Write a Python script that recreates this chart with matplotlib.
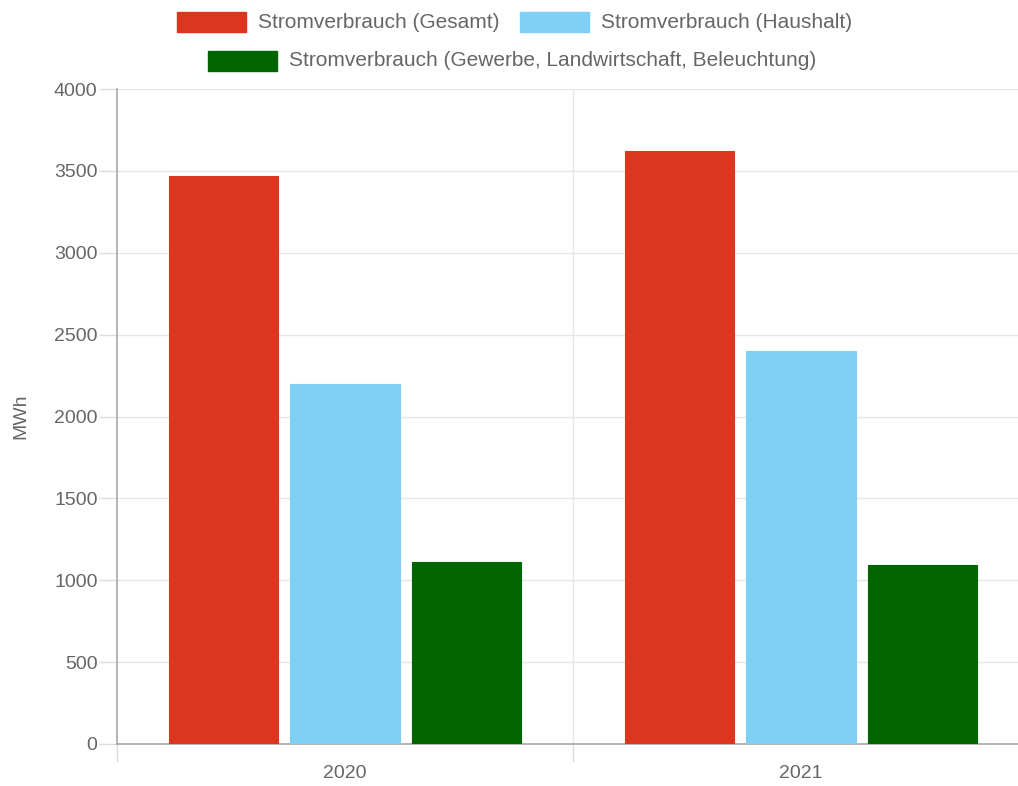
import matplotlib
matplotlib.use("Agg")
import matplotlib.pyplot as plt
import numpy as np
from matplotlib.patches import Rectangle

plt.rcParams['font.family'] = ['Liberation Sans', 'DejaVu Sans']

years = ["2020", "2021"]
series = ["Stromverbrauch (Gesamt)", "Stromverbrauch (Haushalt)",
          "Stromverbrauch (Gewerbe, Landwirtschaft, Beleuchtung)"]
gesamt = [3468, 3620]
haushalt = [2200, 2400]
gewerbe = [1113, 1095]
colors = ["#dd361f", "#7fd0f5", "#006400"]

W, H = 1018, 786
fig = plt.figure(figsize=(W / 100, H / 100), dpi=100)
# plot area runs a little past the right edge of the canvas
ax = fig.add_axes([117 / W, 42 / H, 912 / W, 655 / H])

x = np.arange(len(years))
bw = 0.8 / 3
for i, vals in enumerate([gesamt, haushalt, gewerbe]):
    ax.bar(x + (i - 1) * bw, vals, width=bw * 0.9, color=colors[i],
           edgecolor=colors[i], linewidth=0.8, zorder=3)

ax.set_xlim(-0.5, 1.5)
ax.set_ylim(0, 4000)
ax.set_yticks(range(0, 4001, 500))
ax.set_xticks(x)
ax.set_xticklabels(years)
ax.set_xticks([-0.5, 0.5, 1.5], minor=True)
ax.tick_params(axis='x', which='major', length=0, pad=15,
               labelcolor="#666666", labelsize=14)
ax.tick_params(axis='x', which='minor', length=13, color="#dcdcdc", width=1)
ax.tick_params(axis='y', length=13, color="#dcdcdc", width=1, pad=1,
               labelcolor="#666666", labelsize=14)
ax.grid(axis='y', color="#e6e6e6", linewidth=1, zorder=0)
ax.axvline(0.5, color="#e6e6e6", linewidth=1, zorder=0)
for s in ['top', 'right']:
    ax.spines[s].set_visible(False)
for s in ['left', 'bottom']:
    ax.spines[s].set_color("#a8a8a8")
    ax.spines[s].set_linewidth(1.2)

ax.set_ylabel("MWh", color="#666666", fontsize=14, labelpad=18)

# legend drawn by hand in two centred rows
def legend_item(x0, y0, color, label):
    fig.patches.append(Rectangle((x0 / W, 1 - (y0 + 20) / H), 69 / W, 20 / H,
                                 transform=fig.transFigure, facecolor=color,
                                 edgecolor=color))
    fig.text((x0 + 81) / W, 1 - (y0 + 10) / H, label, color="#666666",
             fontsize=15, va='center', ha='left')

legend_item(177, 12, colors[0], series[0])
legend_item(520, 12, colors[1], series[1])
legend_item(208, 51, colors[2], series[2])

fig.savefig("out.png", dpi=100)
